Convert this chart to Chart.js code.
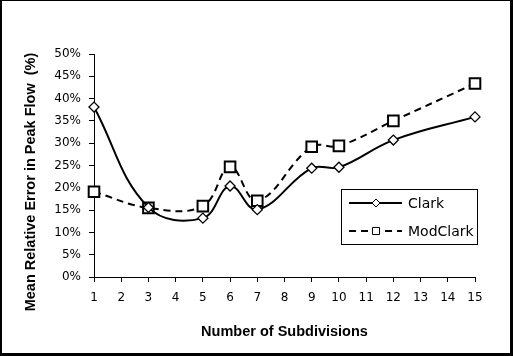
<!DOCTYPE html>
<html>
<head>
<meta charset="utf-8">
<script src="https://cdn.jsdelivr.net/npm/chart.js@4/dist/chart.umd.min.js"></script>
<style>
  html, body { margin: 0; padding: 0; background: #fff; }
  #wrap { width: 513px; height: 356px; position: relative; }
</style>
</head>
<body>
<div id="wrap"><canvas id="c" width="513" height="356"></canvas></div>
<script>
// Data
const subdivisions = [1, 3, 5, 6, 7, 9, 10, 12, 15];
const clark    = [38.1, 15.6, 13.2, 20.4, 15.1, 24.4, 24.6, 30.7, 35.9];
const modClark = [19.1, 15.5, 15.9, 24.7, 17.1, 29.2, 29.4, 35.0, 43.4];
const seriesNames = ['Clark', 'ModClark'];
const xTicks = [1, 15, 1];      // min, max, step
const yTicks = [0, 50, 5];      // min, max, step (percent)
const xTitle = 'Number of Subdivisions';
const yTitle = 'Mean Relative Error in Peak Flow  (%)';

const toPts = (xs, ys) => xs.map((x, i) => ({ x: x, y: ys[i] }));

const legendPlugin = {
  id: 'customLegend',
  afterDraw(chart, args, opts) {
    const ctx = chart.ctx;
    ctx.save();
    ctx.strokeStyle = '#000';
    ctx.lineWidth = 1;
    ctx.strokeRect(opts.x + 0.5, opts.y + 0.5, opts.w, opts.h);
    chart.data.datasets.forEach((ds, i) => {
      const cy = opts.y + opts.rowY[i];
      ctx.beginPath();
      ctx.setLineDash(ds.borderDash || []);
      ctx.lineWidth = ds.borderWidth;
      ctx.strokeStyle = ds.borderColor;
      ctx.moveTo(opts.x + 8, cy);
      ctx.lineTo(opts.x + 61, cy);
      ctx.stroke();
      ctx.setLineDash([]);
      ctx.fillStyle = '#fff';
      ctx.lineWidth = 1;
      Chart.helpers.drawPoint(ctx, {
        pointStyle: ds.pointStyle,
        radius: opts.markerR[i],
        borderWidth: 1
      }, opts.x + 35, cy);
      ctx.fillStyle = '#000';
      ctx.font = opts.font;
      ctx.textBaseline = 'middle';
      ctx.textAlign = 'left';
      ctx.fillText(ds.label, opts.x + 67, cy + 1);
    });
    ctx.restore();
  }
};

const yTitlePlugin = {
  id: 'yTitle',
  afterDraw(chart, args, opts) {
    const ctx = chart.ctx;
    ctx.save();
    ctx.translate(opts.x, opts.y);
    ctx.rotate(-Math.PI / 2);
    ctx.fillStyle = '#000';
    ctx.font = opts.font;
    ctx.textAlign = 'center';
    ctx.textBaseline = 'middle';
    ctx.fillText(opts.text, 0, 0);
    ctx.restore();
  }
};

const borderPlugin = {
  id: 'outerBorder',
  afterDraw(chart) {
    const ctx = chart.ctx;
    ctx.save();
    ctx.fillStyle = '#000';
    ctx.fillRect(0, 0, 513, 1);
    ctx.fillRect(0, 0, 2, 356);
    ctx.fillRect(510, 0, 3, 356);
    ctx.fillRect(0, 353, 513, 3);
    ctx.restore();
  }
};

new Chart(document.getElementById('c'), {
  type: 'line',
  data: {
    datasets: [
      {
        label: seriesNames[0],
        data: toPts(subdivisions, clark),
        borderColor: '#000',
        borderWidth: 2,
        pointStyle: 'rectRot',
        pointRadius: 5,
        pointBorderWidth: 1.3,
        pointBackgroundColor: '#fff',
        pointBorderColor: '#000',
        tension: 0.4,
        fill: false,
        clip: false
      },
      {
        label: seriesNames[1],
        data: toPts(subdivisions, modClark),
        borderColor: '#000',
        borderWidth: 2,
        borderDash: [7, 5],
        pointStyle: 'rect',
        pointRadius: 7.5,
        pointBorderWidth: 2,
        pointBackgroundColor: '#fff',
        pointBorderColor: '#000',
        tension: 0.4,
        fill: false,
        clip: false
      }
    ]
  },
  options: {
    responsive: false,
    animation: false,
    devicePixelRatio: 1,
    layout: { padding: { left: 17, top: 54, right: 38, bottom: 15 } },
    plugins: {
      legend: { display: false },
      tooltip: { enabled: false },
      customLegend: {
        x: 341, y: 189, w: 136, h: 55,
        rowY: [14, 42],
        markerR: [4, 5],
        font: '14px "DejaVu Sans"'
      },
      yTitle: {
        text: yTitle,
        x: 31, y: 182,
        font: 'bold 14.5px "Liberation Sans"'
      }
    },
    scales: {
      x: {
        type: 'linear',
        min: xTicks[0], max: xTicks[1],
        afterFit(scale) { scale.height = 64; },
        ticks: {
          stepSize: xTicks[2],
          color: '#000',
          padding: 9,
          maxRotation: 0,
          autoSkip: false,
          font: { family: 'DejaVu Sans', size: 12 }
        },
        grid: {
          display: true,
          drawOnChartArea: false,
          drawTicks: true,
          tickLength: 5,
          color: '#000',
          lineWidth: 1
        },
        border: { display: true, color: '#000', width: 1 },
        title: {
          display: true,
          text: xTitle,
          color: '#000',
          font: { family: 'Liberation Sans', size: 14.5, weight: 'bold' },
          padding: { top: 5, bottom: 0 }
        }
      },
      y: {
        type: 'linear',
        min: yTicks[0], max: yTicks[1],
        afterFit(scale) { scale.width = 77; },
        ticks: {
          stepSize: yTicks[2],
          color: '#000',
          padding: 8,
          font: { family: 'DejaVu Sans', size: 12 },
          callback: v => v + '%'
        },
        grid: {
          display: true,
          drawOnChartArea: false,
          drawTicks: true,
          tickLength: 5,
          color: '#000',
          lineWidth: 1
        },
        border: { display: true, color: '#000', width: 1 },
        title: { display: false }
      }
    }
  },
  plugins: [legendPlugin, yTitlePlugin, borderPlugin]
});
</script>
</body>
</html>
